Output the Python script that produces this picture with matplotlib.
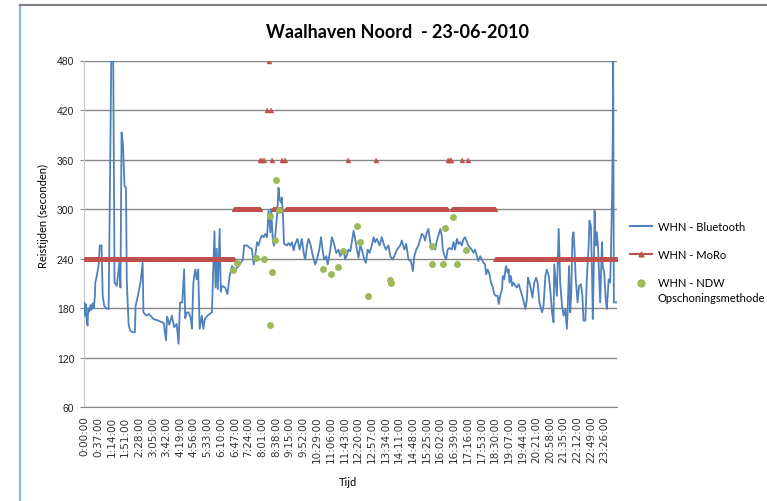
import numpy as np
import matplotlib.pyplot as plt
from matplotlib.lines import Line2D

# Bluetooth travel times (minute of day, seconds)
bt_minutes = [0, 2, 4, 6, 9, 11, 14, 17, 20, 23, 26, 29, 30, 34, 39, 42, 47, 50, 54, 59,
              66, 70, 74, 78, 82, 88, 95, 98, 101, 105, 109, 113, 115, 120, 124, 130, 137, 139, 145, 152,
              158, 160, 168, 175, 187, 200, 215, 221, 224, 230, 237, 243, 250, 255, 259, 265, 270, 273, 277, 282,
              288, 291, 295, 300, 304, 308, 312, 318, 322, 326, 333, 345, 352, 355, 358, 361, 366, 369, 372, 381,
              387, 393, 399, 408, 417, 423, 429, 432, 440, 447, 453, 458, 462, 467, 471, 476, 480, 485, 489, 494,
              498, 503, 505, 510, 513, 517, 521, 525, 528, 531, 534, 537, 540, 548, 552, 557, 561, 566, 570, 576,
              582, 588, 593, 597, 602, 606, 611, 618, 624, 629, 635, 640, 644, 648, 654, 658, 665, 669, 674, 681,
              687, 692, 696, 701, 705, 710, 714, 719, 723, 728, 732, 737, 741, 746, 750, 757, 761, 766, 771, 777,
              782, 786, 791, 798, 804, 809, 815, 822, 827, 833, 838, 845, 854, 858, 865, 870, 876, 883, 888, 892,
              897, 903, 908, 912, 917, 921, 926, 930, 935, 939, 944, 948, 953, 957, 962, 966, 969, 974, 978, 982,
              987, 993, 998, 1002, 1007, 1011, 1016, 1020, 1025, 1029, 1034, 1038, 1043, 1047, 1052, 1056, 1061, 1065, 1070, 1074,
              1079, 1083, 1086, 1090, 1095, 1099, 1103, 1108, 1112, 1117, 1120, 1124, 1129, 1131, 1135, 1138, 1140, 1144, 1147, 1149,
              1153, 1156, 1160, 1165, 1169, 1174, 1178, 1183, 1187, 1192, 1196, 1199, 1203, 1207, 1211, 1216, 1221, 1225, 1230, 1237,
              1241, 1246, 1250, 1255, 1259, 1264, 1268, 1270, 1274, 1277, 1282, 1286, 1291, 1295, 1300, 1304, 1306, 1310, 1313, 1316,
              1319, 1322, 1325, 1328, 1333, 1337, 1342, 1346, 1349, 1354, 1358, 1363, 1365, 1369, 1372, 1374, 1376, 1379, 1382, 1385,
              1388, 1391, 1394, 1399, 1401, 1405, 1409, 1412, 1417, 1421, 1423, 1426, 1428, 1429, 1431, 1439]
bt_seconds = [187, 171, 185, 170, 159, 180, 176, 184, 178, 186, 180, 195, 211, 219, 232, 256, 256, 195, 183, 180,
              179, 343, 520, 520, 211, 207, 235, 205, 393, 377, 328, 326, 215, 160, 153, 151, 151, 183, 195, 211,
              235, 175, 171, 173, 167, 165, 162, 141, 170, 160, 171, 157, 161, 137, 187, 187, 227, 168, 175, 175,
              168, 155, 211, 227, 215, 227, 155, 171, 155, 167, 171, 175, 273, 205, 252, 203, 276, 200, 207, 205,
              197, 219, 231, 227, 231, 235, 239, 256, 256, 253, 252, 233, 243, 260, 256, 264, 268, 266, 270, 266,
              298, 272, 300, 260, 256, 272, 292, 326, 312, 308, 314, 292, 258, 256, 259, 256, 260, 250, 258, 264,
              251, 264, 247, 239, 256, 264, 258, 243, 233, 239, 251, 266, 251, 239, 243, 233, 251, 266, 260, 247,
              251, 243, 247, 251, 239, 245, 251, 249, 260, 274, 264, 251, 241, 256, 251, 239, 235, 251, 247, 256,
              266, 260, 264, 256, 266, 258, 251, 256, 243, 239, 243, 251, 256, 262, 251, 258, 239, 237, 225, 243,
              251, 256, 264, 270, 268, 262, 272, 276, 260, 251, 256, 251, 262, 268, 276, 268, 251, 243, 239, 251,
              253, 251, 260, 251, 264, 258, 260, 256, 264, 266, 260, 256, 253, 251, 247, 251, 243, 237, 243, 239,
              235, 233, 221, 227, 221, 211, 207, 197, 195, 195, 185, 195, 203, 219, 215, 227, 231, 223, 227, 211,
              219, 207, 211, 207, 205, 209, 203, 195, 189, 179, 191, 217, 211, 203, 193, 211, 217, 211, 187, 175,
              183, 219, 227, 219, 203, 175, 163, 233, 211, 195, 276, 211, 183, 171, 179, 155, 175, 231, 175, 199,
              264, 272, 248, 215, 187, 207, 209, 195, 165, 165, 215, 256, 286, 280, 223, 167, 207, 298, 256, 272,
              256, 223, 187, 260, 231, 223, 191, 179, 215, 211, 243, 312, 385, 520, 187, 187]

# MoRo travel times: runs of constant value (start minute, end minute, seconds)
moro_run_start = [0, 405, 510, 545, 994, 1111]
moro_run_end = [404, 475, 531, 980, 1110, 1439]
moro_run_value = [240, 300, 300, 300, 300, 240]
moro_single_min = [476, 481, 486, 494, 500, 505, 508, 535, 543, 714, 789, 984, 988, 992, 1020, 1038]
moro_single_val = [360, 360, 360, 420, 480, 420, 360, 360, 360, 360, 360, 360, 360, 360, 360, 360]

# NDW opschoningsmethode points
ndw_minutes = [402, 413, 465, 485, 502, 503, 507, 516, 518, 525, 645, 667, 687, 698, 737, 744, 766, 826, 828,
               939, 941, 969, 974, 996, 1007, 1032]
ndw_seconds = [226, 235, 241, 239, 160, 292, 224, 263, 335, 299, 228, 222, 230, 249, 279, 260, 195, 214, 210,
               234, 255, 234, 277, 290, 234, 251]

tick_minutes = list(range(0, 1440, 37))
tick_labels = ['%d:%02d:00' % (m // 60, m % 60) for m in tick_minutes]

blue = '#4F81BD'
red = '#C0504D'
green = '#9BBB59'
grid_col = '#868686'

fig = plt.figure(figsize=(7.67, 5.02), dpi=100)
ax = fig.add_axes([84 / 767, 1 - 408.3 / 502, 533 / 767, 346.8 / 502])

ax.plot(bt_minutes, bt_seconds, color=blue, lw=1.3, zorder=3)

for s, e, v in zip(moro_run_start, moro_run_end, moro_run_value):
    xs = np.arange(s, e + 1)
    ax.plot(xs, np.full(len(xs), v), color=red, lw=1.0, marker='^', ms=3.3,
            markeredgewidth=0.3, zorder=4)
ax.plot(moro_single_min, moro_single_val, linestyle='none', color=red, marker='^', ms=3.6,
        markeredgewidth=0.3, zorder=4)

ax.plot(ndw_minutes, ndw_seconds, linestyle='none', marker='o', ms=5, color=green,
        markeredgewidth=0, zorder=5)

ax.set_xlim(-0.5, 1439.5)
ax.set_ylim(60, 480)
ax.set_yticks(range(60, 481, 60))
ax.yaxis.grid(True, color=grid_col, lw=1.0)
ax.set_axisbelow(True)
ax.set_xticks(tick_minutes)
ax.set_xticklabels(tick_labels, rotation=90, fontsize=7.5, family='DejaVu Sans', color='#333333')
ax.tick_params(axis='x', length=0, pad=6)
ax.tick_params(axis='y', length=3, color=grid_col, labelsize=7.5, pad=4, labelcolor='#222222')
for lab in ax.get_yticklabels():
    lab.set_family('Liberation Sans')
for sp in ['top', 'right']:
    ax.spines[sp].set_visible(False)
ax.spines['left'].set_color('#C8C8C8')
ax.spines['bottom'].set_color(grid_col)

fig.text(397 / 767, 1 - 33 / 502, 'Waalhaven Noord  - 23-06-2010', ha='center', va='center',
         fontsize=13, fontweight='bold', family='Lato')
fig.text(43 / 767, 1 - 216 / 502, 'Reistijden (seconden)', rotation=90, ha='center', va='center',
         fontsize=8, family='Lato')
fig.text(348 / 767, 1 - 483 / 502, 'Tijd', ha='center', va='center', fontsize=8, family='Lato')

handles = [Line2D([], [], color=blue, lw=1.5),
           Line2D([], [], color=red, lw=1.5, marker='^', ms=3.5),
           Line2D([], [], color=green, linestyle='none', marker='o', ms=5)]
labels = ['WHN - Bluetooth', 'WHN - MoRo', 'WHN - NDW']
leg = fig.legend(handles, labels, loc='upper left', bbox_to_anchor=(630 / 767, 1 - 222 / 502),
                 frameon=False, prop={'family': 'Lato', 'size': 8}, handlelength=2.0,
                 handletextpad=0.55, labelspacing=1.55, borderpad=0, borderaxespad=0)
fig.text(657 / 767, 1 - 298 / 502, 'Opschoningsmethode', ha='left', va='center', fontsize=8, family='Lato')

# chart frame
fig.add_artist(Line2D([20 / 767, 20 / 767], [0, 1 - 6 / 502], color='#8EB4E3', lw=1.6))
fig.add_artist(Line2D([20 / 767, 1], [1 - 6 / 502, 1 - 6 / 502], color='#808080', lw=1.6))

fig.savefig('out.png', dpi=100)
